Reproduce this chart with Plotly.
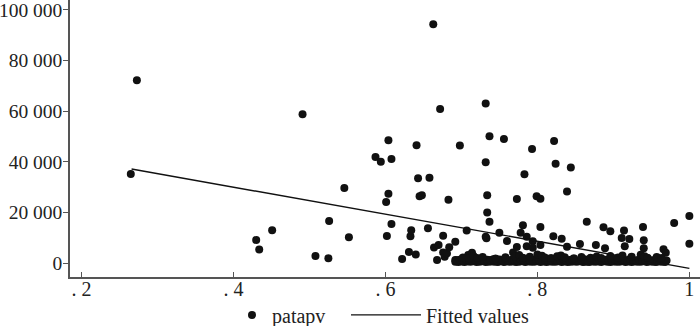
import plotly.graph_objects as go

# ---- data ----
sparse_x = [0.265, 0.273, 0.430, 0.434, 0.451, 0.491, 0.508, 0.525, 0.526, 0.546,
            0.552, 0.587, 0.594, 0.601, 0.602, 0.604, 0.604, 0.608, 0.608, 0.622,
            0.631, 0.633, 0.634, 0.640, 0.641, 0.643, 0.645, 0.648, 0.656, 0.658,
            0.663, 0.664, 0.668, 0.670, 0.672, 0.676, 0.676, 0.678, 0.681, 0.683,
            0.684, 0.692, 0.692, 0.698, 0.703, 0.707, 0.709, 0.714, 0.722, 0.732,
            0.732, 0.732, 0.733, 0.734, 0.734, 0.737, 0.737, 0.750, 0.756, 0.760,
            0.768, 0.773, 0.773, 0.778, 0.781, 0.783, 0.786, 0.786, 0.793, 0.794,
            0.794, 0.799, 0.804, 0.804, 0.804, 0.821, 0.822, 0.824, 0.832, 0.839,
            0.839, 0.844, 0.856, 0.865, 0.877, 0.887, 0.889, 0.896, 0.911, 0.914,
            0.915, 0.921, 0.939, 0.940, 0.940, 0.966, 0.969, 0.980, 1.000, 1.000]
sparse_y = [35200, 72200, 9100, 5300, 12900, 58800, 2800, 1900, 16600, 29600,
            10200, 41900, 40000, 24100, 10700, 48500, 27400, 41100, 15400, 1600,
            4400, 10600, 12900, 3400, 46500, 33500, 26400, 26800, 13700, 33700,
            94400, 6100, 1200, 7100, 60900, 10800, 4200, 2500, 3800, 25000,
            6200, 8400, 1200, 46400, 1900, 12800, 3200, 4100, 1200, 63000,
            39800, 10400, 9800, 26800, 20000, 50100, 16300, 12000, 49000, 8700,
            4200, 25300, 6300, 12000, 14900, 35100, 10400, 6600, 45100, 8600,
            6000, 26400, 25400, 14200, 7100, 10600, 48200, 39200, 9600, 28300,
            6400, 37700, 7500, 16300, 7100, 14100, 5800, 12600, 9900, 12800,
            6600, 9500, 14200, 9000, 5800, 5400, 4100, 15800, 18600, 7600]

# dense band of low values (lower layer)
band_a_x = [0.692, 0.696, 0.700, 0.704, 0.708, 0.712, 0.716, 0.720, 0.724, 0.728,
            0.732, 0.736, 0.740, 0.744, 0.748, 0.752, 0.756, 0.760, 0.764, 0.768,
            0.772, 0.776, 0.780, 0.784, 0.788, 0.792, 0.796, 0.800, 0.804, 0.808,
            0.812, 0.816, 0.820, 0.824, 0.828, 0.832, 0.836, 0.840, 0.844, 0.848,
            0.852, 0.856, 0.860, 0.864, 0.868, 0.872, 0.876, 0.880, 0.884, 0.888,
            0.892, 0.896, 0.900, 0.904, 0.908, 0.912, 0.916, 0.920, 0.924, 0.928,
            0.932, 0.936, 0.940, 0.944, 0.948, 0.952, 0.956, 0.960, 0.964, 0.968]
band_a_y = [500, 400, 600, 350, 550, 450, 700, 400, 500, 650,
            350, 450, 600, 500, 400, 700, 350, 550, 450, 600,
            400, 500, 650, 350, 600, 450, 500, 700, 400, 550,
            350, 600, 450, 500, 650, 400, 550, 350, 500, 600,
            450, 700, 400, 500, 350, 600, 450, 550, 400, 650,
            500, 350, 600, 450, 500, 700, 400, 550, 350, 600,
            450, 500, 650, 400, 550, 450, 350, 600, 500, 400]
# dense band (upper layer)
band_b_x = [0.694, 0.698, 0.702, 0.706, 0.710, 0.714, 0.718, 0.722, 0.726, 0.730,
            0.734, 0.738, 0.742, 0.746, 0.750, 0.754, 0.758, 0.762, 0.766, 0.770,
            0.774, 0.778, 0.782, 0.786, 0.790, 0.794, 0.798, 0.802, 0.806, 0.810,
            0.814, 0.818, 0.822, 0.826, 0.830, 0.834, 0.838, 0.842, 0.846, 0.850,
            0.854, 0.858, 0.862, 0.866, 0.870, 0.874, 0.878, 0.882, 0.886, 0.890,
            0.894, 0.898, 0.902, 0.906, 0.910, 0.914, 0.918, 0.922, 0.926, 0.930,
            0.934, 0.938, 0.942, 0.946, 0.950, 0.954, 0.958, 0.962, 0.966, 0.970]
band_b_y = [1100, 1300, 900, 1500, 1200, 1000, 1400, 1600, 1100, 900,
            1300, 1200, 1500, 1000, 1400, 1100, 1600, 900, 1300, 1200,
            1000, 1500, 1100, 1400, 1200, 900, 1600, 1300, 1000, 1400,
            1200, 1100, 1500, 900, 1300, 1600, 1000, 1200, 1400, 1100,
            900, 1300, 1500, 1000, 1200, 1600, 1100, 1400, 900, 1300,
            1200, 1000, 1500, 1100, 1400, 1300, 900, 1600, 1200, 1000,
            1400, 1100, 1300, 1500, 1000, 1200, 900, 1300, 1100, 1000]
# bumps on top of the band
band_c_x = [0.702, 0.710, 0.716, 0.721, 0.728, 0.745, 0.758, 0.770, 0.776, 0.781,
            0.790, 0.800, 0.806, 0.810, 0.818, 0.826, 0.831, 0.836, 0.848, 0.858,
            0.870, 0.878, 0.884, 0.896, 0.906, 0.912, 0.924, 0.936, 0.941, 0.945,
            0.957, 0.963]
band_c_y = [2200, 1900, 2800, 2000, 2400, 1800, 2300, 2600, 3200, 2100,
            2500, 3400, 2900, 2200, 2000, 2700, 3000, 2300, 1900, 2400,
            2100, 2600, 2000, 2800, 2200, 3000, 2500, 3300, 2700, 2100,
            2400, 2000]

fit_x = [0.266, 1.0]
fit_y = [37150, -2100]

y_ticks = [0, 20000, 40000, 60000, 80000, 100000]
y_labels = ["0", "20 000", "40 000", "60 000", "80 000", "100 000"]
x_ticks = [0.2, 0.4, 0.6, 0.8, 1.0]
x_labels = [". 2", ". 4", ". 6", ". 8", "1"]

FONT = "Liberation Serif"

fig = go.Figure()
fig.add_trace(go.Scatter(
    x=sparse_x + band_a_x + band_b_x + band_c_x,
    y=sparse_y + band_a_y + band_b_y + band_c_y,
    mode="markers", name="patapv",
    marker=dict(color="#111111", size=8, line=dict(width=0)),
    legend="legend",
))
fig.add_trace(go.Scatter(
    x=fit_x, y=fit_y, mode="lines", name="Fitted values",
    line=dict(color="#111111", width=1.4),
    legend="legend2",
))

leg_common = dict(orientation="h", yref="container", y=0.034, yanchor="middle",
                  xref="container", xanchor="left",
                  font=dict(family=FONT, size=20, color="#222222"),
                  bgcolor="rgba(0,0,0,0)", borderwidth=0)

fig.update_layout(
    width=700, height=326,
    margin=dict(l=70, r=0, t=0, b=49, autoexpand=False),
    paper_bgcolor="white", plot_bgcolor="white",
    font=dict(family=FONT, size=20, color="#222222"),
    showlegend=True,
    legend=dict(x=232 / 700, itemwidth=30, **leg_common),
    legend2=dict(x=346 / 700, itemwidth=70, **leg_common),
)
fig.update_xaxes(
    range=[0.185, 1.014], tickvals=x_ticks, ticktext=x_labels,
    showgrid=False, zeroline=False, showline=True, linecolor="#555555", linewidth=1.5,
    ticks="inside", ticklen=5, tickcolor="#555555", tickwidth=1.2,
    tickfont=dict(family=FONT, size=20), automargin=False,
    ticklabelstandoff=-7, ticklabeloverflow="allow",
)
fig.update_yaxes(
    range=[-5530, 103950], tickvals=y_ticks, ticktext=y_labels,
    showgrid=False, zeroline=False, showline=True, linecolor="#555555", linewidth=1.5,
    ticks="outside", ticklen=5, tickcolor="#555555", tickwidth=1.2,
    tickfont=dict(family=FONT, size=19.5), automargin=False,
    ticklabelstandoff=-3, ticklabeloverflow="allow",
)

fig.write_html("out.html")
